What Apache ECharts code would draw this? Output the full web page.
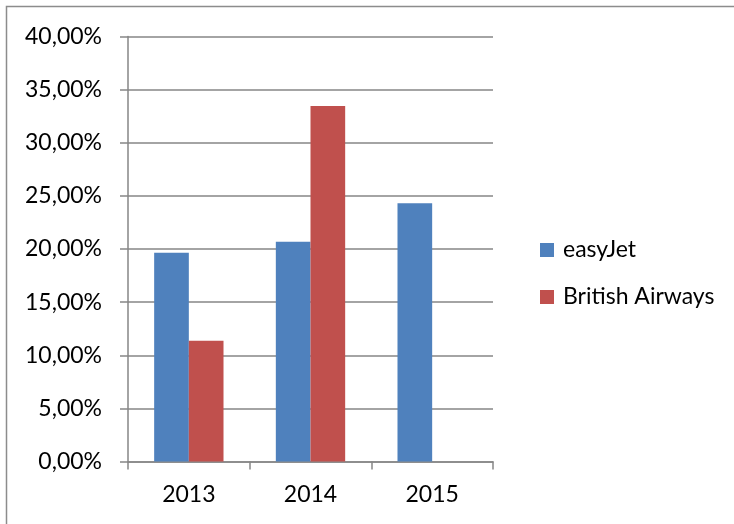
<!DOCTYPE html>
<html><head><meta charset="utf-8">
<script src="https://cdn.jsdelivr.net/npm/echarts@6/dist/echarts.min.js"></script>
<style>html,body{margin:0;padding:0;background:#fff}#c{width:734px;height:524px}</style>
</head><body><div id="c"></div>
<script>
var categories = ['2013', '2014', '2015'];
var easyJet = [19.65, 20.69, 24.30];
var britishAirways = [11.37, 33.45, null];
var seriesNames = ['easyJet', 'British Airways'];
var yTicks = [0, 5, 10, 15, 20, 25, 30, 35, 40];

var font = 'Lato, "Open Sans", sans-serif';
var chart = echarts.init(document.getElementById('c'), null, {renderer: 'canvas'});
chart.setOption({
  animation: false,
  backgroundColor: '#fff',
  graphic: [{type: 'rect', shape: {x: 6.5, y: 6.5, width: 900, height: 900}, style: {fill: 'none', stroke: '#8c8c8c', lineWidth: 1.5}, silent: true}],
  grid: {left: 128, right: 241, top: 36.4, bottom: 62.4, containLabel: false},
  legend: {
    orient: 'vertical', left: 535, top: 233.5, itemWidth: 14, itemHeight: 14, itemGap: 24,
    icon: 'rect',
    textStyle: {fontFamily: font, fontSize: 23, color: '#000', padding: [0,0,0,4]},
    data: seriesNames
  },
  xAxis: {
    type: 'category', data: categories,
    axisLine: {lineStyle: {color: '#868686', width: 1.5}},
    axisTick: {show: true, length: 8, lineStyle: {color: '#868686', width: 1.5}},
    axisLabel: {fontFamily: font, fontSize: 23, color: '#000', margin: 21}
  },
  yAxis: {
    type: 'value', min: yTicks[0], max: yTicks[yTicks.length - 1], interval: 5,
    axisLine: {show: true, lineStyle: {color: '#868686', width: 1.5}},
    axisTick: {show: true, length: 8, inside: false, lineStyle: {color: '#868686', width: 1.5}},
    splitLine: {lineStyle: {color: '#868686', width: 1.5}},
    axisLabel: {fontFamily: font, fontSize: 23, color: '#000', margin: 26,
      formatter: function (v) { return v.toFixed(2).replace('.', ',') + '%'; }}
  },
  series: [
    {name: seriesNames[0], type: 'bar', data: easyJet, itemStyle: {color: '#4F81BD'}, barGap: '0%', barCategoryGap: '43%'},
    {name: seriesNames[1], type: 'bar', data: britishAirways, itemStyle: {color: '#C0504D'}, barGap: '0%', barCategoryGap: '43%'}
  ]
});
</script></body></html>
